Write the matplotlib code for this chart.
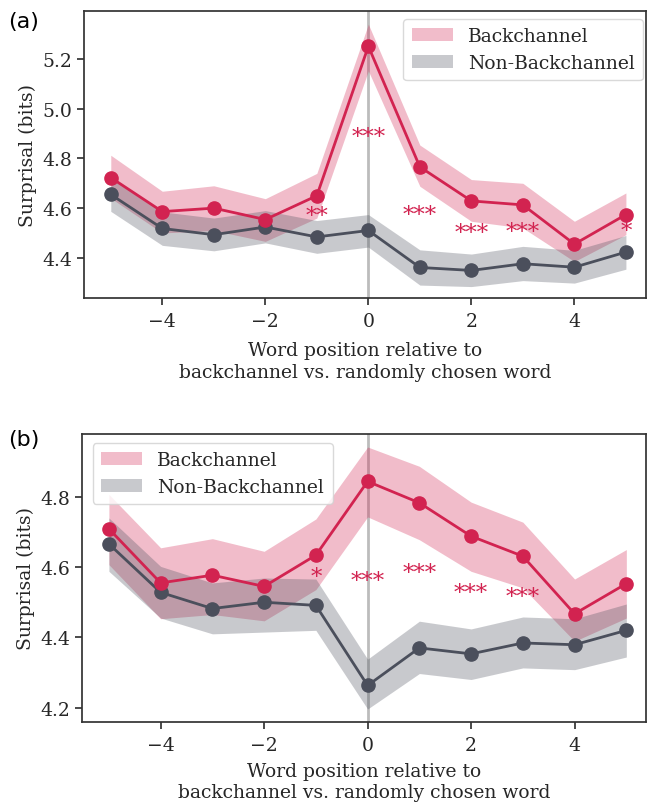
import numpy as np
import matplotlib
matplotlib.use("Agg")
import matplotlib.pyplot as plt

# ---------------- data ----------------
positions = [-5, -4, -3, -2, -1, 0, 1, 2, 3, 4, 5]

# panel (a)
a_bc_mean = [4.723, 4.586, 4.600, 4.554, 4.650, 5.252, 4.766, 4.629, 4.613, 4.455, 4.574]
a_bc_low  = [4.640, 4.500, 4.510, 4.466, 4.560, 5.153, 4.688, 4.547, 4.520, 4.385, 4.493]
a_bc_high = [4.813, 4.668, 4.690, 4.638, 4.740, 5.341, 4.854, 4.715, 4.700, 4.547, 4.661]
a_nb_mean = [4.655, 4.518, 4.493, 4.524, 4.484, 4.510, 4.361, 4.349, 4.376, 4.362, 4.423]
a_nb_low  = [4.587, 4.450, 4.428, 4.460, 4.418, 4.443, 4.290, 4.284, 4.308, 4.298, 4.354]
a_nb_high = [4.723, 4.585, 4.560, 4.590, 4.550, 4.574, 4.432, 4.415, 4.446, 4.430, 4.490]
a_star_pos = [-1, 0, 1, 2, 3, 5]
a_star_lab = ["**", "***", "***", "***", "***", "*"]
a_star_y   = [4.568, 4.888, 4.573, 4.501, 4.505, 4.508]

# panel (b)
b_bc_mean = [4.709, 4.555, 4.577, 4.545, 4.634, 4.844, 4.783, 4.688, 4.631, 4.467, 4.553]
b_bc_low  = [4.607, 4.453, 4.465, 4.447, 4.536, 4.743, 4.678, 4.588, 4.541, 4.389, 4.455]
b_bc_high = [4.807, 4.655, 4.681, 4.645, 4.737, 4.942, 4.887, 4.785, 4.728, 4.566, 4.650]
b_nb_mean = [4.666, 4.528, 4.482, 4.500, 4.491, 4.263, 4.370, 4.353, 4.384, 4.379, 4.420]
b_nb_low  = [4.588, 4.455, 4.410, 4.415, 4.420, 4.196, 4.297, 4.280, 4.313, 4.308, 4.344]
b_nb_high = [4.740, 4.602, 4.555, 4.569, 4.566, 4.338, 4.446, 4.424, 4.458, 4.453, 4.495]
b_star_pos = [-1, 0, 1, 2, 3]
b_star_lab = ["*", "***", "***", "***", "***"]
b_star_y   = [4.571, 4.561, 4.582, 4.525, 4.514]

series_names = ["Backchannel", "Non-Backchannel"]
xticks = [-4, -2, 0, 2, 4]
a_yticks = [4.4, 4.6, 4.8, 5.0, 5.2]
b_yticks = [4.2, 4.4, 4.6, 4.8]
xlabel = "Word position relative to\nbackchannel vs. randomly chosen word"
ylabel = "Surprisal (bits)"

# ---------------- style ----------------
RED = "#d22350"
GREY = "#4b4f5c"
TXT = "#262626"
plt.rcParams.update({
    "font.family": ["DejaVu Serif"],
    "font.size": 13.5,
    "axes.edgecolor": "#333333",
    "axes.linewidth": 1.25,
    "xtick.color": "#333333",
    "ytick.color": "#333333",
    "xtick.labelcolor": TXT,
    "ytick.labelcolor": TXT,
    "xtick.major.size": 5,
    "ytick.major.size": 5,
    "xtick.major.width": 1.25,
    "ytick.major.width": 1.25,
    "xtick.major.pad": 5,
    "axes.labelcolor": TXT,
    "text.color": TXT,
})

fig = plt.figure(figsize=(6.47, 8.04), dpi=100)
ax_a = fig.add_axes([84 / 647, 1 - 299 / 804, (646 - 84) / 647, (299 - 12) / 804])
ax_b = fig.add_axes([82 / 647, 1 - 723 / 804, (646 - 82) / 647, (723 - 435) / 804])


def draw(ax, bc_m, bc_l, bc_h, nb_m, nb_l, nb_h, sp, sl, sy, yticks, ylim, xlim,
         legloc, anchor, lpad, lspace):
    ax.axvline(0, color="#a0a0a0", lw=2, alpha=0.7, zorder=1)
    ax.fill_between(positions, bc_l, bc_h, color=RED, alpha=0.3, lw=0, label=series_names[0], zorder=2)
    ax.fill_between(positions, nb_l, nb_h, color=GREY, alpha=0.3, lw=0, label=series_names[1], zorder=2)
    ax.plot(positions, bc_m, color=RED, lw=2, marker="o", ms=9.5, zorder=4)
    ax.plot(positions, nb_m, color=GREY, lw=2, marker="o", ms=9.5, zorder=3)
    for p, l, y in zip(sp, sl, sy):
        ax.text(p, y, l, color=RED, fontsize=16.5, ha="center", va="center", zorder=5)
    ax.set_xticks(xticks)
    ax.set_xticklabels([f"{t}".replace("-", "\u2212") for t in xticks])
    ax.set_yticks(yticks)
    ax.set_yticklabels([f"{t:.1f}" for t in yticks])
    ax.set_xlim(*xlim)
    ax.set_ylim(*ylim)
    ax.set_xlabel(xlabel, linespacing=lspace, labelpad=lpad)
    ax.set_ylabel(ylabel)
    leg = ax.legend(loc=legloc, bbox_to_anchor=anchor, borderaxespad=0, frameon=True,
                    fancybox=True, borderpad=0.45,
                    handlelength=2.2, handletextpad=0.8, labelspacing=0.45)
    leg.get_frame().set_edgecolor("#d0d0d0")


draw(ax_a, a_bc_mean, a_bc_low, a_bc_high, a_nb_mean, a_nb_low, a_nb_high,
     a_star_pos, a_star_lab, a_star_y, a_yticks, (4.238, 5.394), (-5.52, 5.39),
     "upper right", (0.9947, 0.972), 8, 1.3)
draw(ax_b, b_bc_mean, b_bc_low, b_bc_high, b_nb_mean, b_nb_low, b_nb_high,
     b_star_pos, b_star_lab, b_star_y, b_yticks, (4.159, 4.979), (-5.52, 5.38),
     "upper left", (0.019, 0.969), 6, 1.22)

fig.text(8 / 647, 1 - 22 / 804, "(a)", family="DejaVu Sans", fontsize=16, color="black", va="center", ha="left")
fig.text(8 / 647, 1 - 440 / 804, "(b)", family="DejaVu Sans", fontsize=16, color="black", va="center", ha="left")

fig.savefig("out.png", dpi=100)
